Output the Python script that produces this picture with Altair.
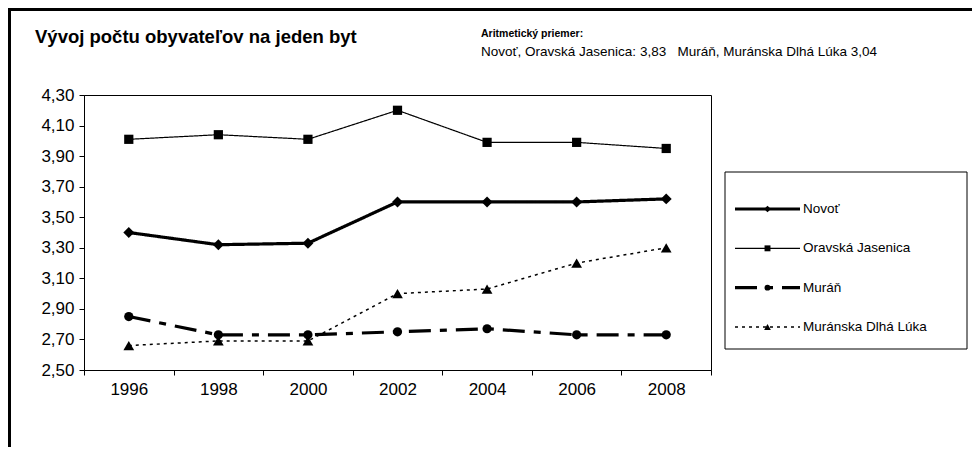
import altair as alt
import pandas as pd

years = ["1996", "1998", "2000", "2002", "2004", "2006", "2008"]
series_names = ["Novoť", "Oravská Jasenica", "Muráň", "Muránska Dlhá Lúka"]
novot = [3.40, 3.32, 3.33, 3.60, 3.60, 3.60, 3.62]
oravska = [4.01, 4.04, 4.01, 4.20, 3.99, 3.99, 3.95]
muran = [2.85, 2.73, 2.73, 2.75, 2.77, 2.73, 2.73]
muranska = [2.66, 2.69, 2.69, 3.00, 3.03, 3.20, 3.30]
values = [novot, oravska, muran, muranska]

title_text = "Vývoj počtu obyvateľov na jeden byt"
note_title = "Aritmetický priemer:"
note_text = "Novoť, Oravská Jasenica: 3,83\u00a0\u00a0\u00a0Muráň, Muránska Dlhá Lúka 3,04"

FONT = "Liberation Sans"
W, H = 627, 275

styles = {
    "Novoť": dict(width=3.2, dash=[1, 0], shape="diamond", size=120, lsize=45),
    "Oravská Jasenica": dict(width=1.2, dash=[1, 0], shape="square", size=85, lsize=35),
    "Muráň": dict(width=3.2, dash=[22, 9, 7, 9], shape="circle", size=85, lsize=35),
    "Muránska Dlhá Lúka": dict(width=1.5, dash=[3, 4], shape="triangle-up", size=115, lsize=45),
}

rows = []
for name, vals in zip(series_names, values):
    for y, v in zip(years, vals):
        rows.append({"year": y, "value": v, "series": name})
df = pd.DataFrame(rows)

xenc = alt.X("year:O", scale=alt.Scale(type="band", domain=years, paddingInner=0, paddingOuter=0),
             axis=alt.Axis(title=None, labelAngle=0, tickBand="extent", labelFont=FONT, labelFontSize=17,
                           labelColor="black", tickColor="black", domainColor="black", tickSize=5,
                           labelPadding=6, grid=False))
yenc = alt.Y("value:Q", scale=alt.Scale(domain=[2.5, 4.3], nice=False, zero=False),
             axis=alt.Axis(title=None, values=[2.5 + 0.2 * i for i in range(10)],
                           labelExpr="replace(format(datum.value, '.2f'), '.', ',')",
                           labelFont=FONT, labelFontSize=17, labelColor="black", tickColor="black",
                           domainColor="black", tickSize=5, labelPadding=5, grid=False))

layers = []
for name in series_names:
    st = styles[name]
    base = alt.Chart(df).transform_filter(alt.datum.series == name)
    layers.append(base.mark_line(color="black", strokeWidth=st["width"], strokeDash=st["dash"]).encode(x=xenc, y=yenc))
    layers.append(base.mark_point(color="black", filled=True, opacity=1, shape=st["shape"], size=st["size"]).encode(x=xenc, y=yenc))
main = alt.layer(*layers)

# legend
leg_df = pd.DataFrame({"series": series_names})
ly = alt.Y("series:N", scale=alt.Scale(type="point", domain=series_names, range=[114, 232], padding=0), axis=None)
box = alt.Chart(pd.DataFrame({"a": [0]})).mark_rect(fill="white", stroke="black", strokeWidth=1).encode(
    x=alt.value(641), x2=alt.value(883), y=alt.value(77), y2=alt.value(254))
leg_layers = [box]
for name in series_names:
    st = styles[name]
    b = alt.Chart(leg_df).transform_filter(alt.datum.series == name)
    leg_layers.append(b.mark_rule(color="black", strokeWidth=st["width"], strokeDash=st["dash"]).encode(
        x=alt.value(651), x2=alt.value(716), y=ly))
    leg_layers.append(b.mark_point(color="black", filled=True, opacity=1, shape=st["shape"], size=st["lsize"]).encode(
        x=alt.value(683.5), y=ly))
leg_layers.append(alt.Chart(leg_df).mark_text(align="left", baseline="middle", font=FONT, fontSize=13.5, color="black").encode(
    x=alt.value(719), y=ly, text="series:N"))
legend = alt.layer(*leg_layers)

# titles and frame
one = pd.DataFrame({"a": [0]})
title = alt.Chart(one).mark_text(align="left", baseline="alphabetic", font=FONT, fontSize=18.5, fontWeight="bold", color="black").encode(
    x=alt.value(-49), y=alt.value(-52), text=alt.value(title_text))
note1 = alt.Chart(one).mark_text(align="left", baseline="alphabetic", font=FONT, fontSize=10.5, fontWeight="bold", color="black").encode(
    x=alt.value(397), y=alt.value(-58), text=alt.value(note_title))
note2 = alt.Chart(one).mark_text(align="left", baseline="alphabetic", font=FONT, fontSize=13.5, color="black").encode(
    x=alt.value(397), y=alt.value(-39), text=alt.value(note_text))
frame_top = alt.Chart(one).mark_rule(color="black", strokeWidth=3).encode(
    x=alt.value(-76), x2=alt.value(900), y=alt.value(-85.5))
frame_left = alt.Chart(one).mark_rule(color="black", strokeWidth=3).encode(
    x=alt.value(-74.5), y=alt.value(-87), y2=alt.value(370))

chart = alt.layer(main, legend, title, note1, note2, frame_top, frame_left).resolve_scale(y="independent").properties(
    width=W, height=H,
    autosize=alt.AutoSizeParams(type="none"),
    padding={"left": 76, "top": 87, "right": 261, "bottom": 77},
    background="white",
).configure_view(stroke="black", strokeWidth=1)

chart.save("out.html", embed_options={"renderer": "svg", "actions": False})
